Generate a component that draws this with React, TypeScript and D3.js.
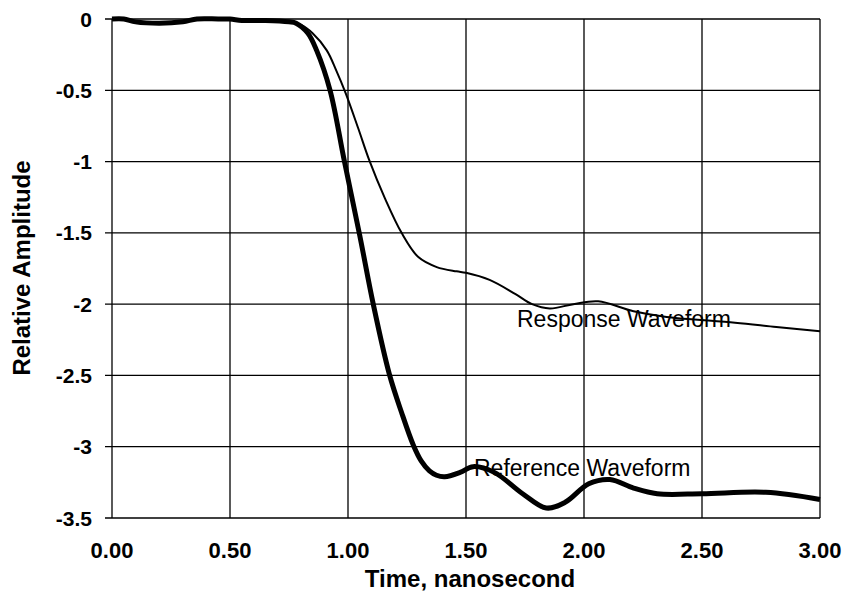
import { useEffect, useRef } from "react"
import * as d3 from "d3"

// Reference waveform (thick trace)
const refTime = [0, 0.05, 0.1, 0.2, 0.3, 0.36, 0.45, 0.5, 0.55, 0.65, 0.75, 0.78, 0.83, 0.867, 0.924, 0.985, 1.05, 1.107, 1.175, 1.227, 1.277, 1.31, 1.345, 1.375, 1.41, 1.475, 1.53, 1.62, 1.74, 1.84, 1.92, 2.02, 2.11, 2.21, 2.31, 2.5, 2.77, 3.0]
const refAmp = [0, 0, -0.02, -0.03, -0.02, 0, 0, 0, -0.01, -0.01, -0.02, -0.03, -0.1, -0.22, -0.5, -1.0, -1.52, -2.0, -2.49, -2.76, -2.99, -3.1, -3.17, -3.2, -3.21, -3.18, -3.14, -3.18, -3.33, -3.43, -3.39, -3.26, -3.23, -3.29, -3.33, -3.33, -3.32, -3.37]

// Response waveform (thin trace)
const respTime = [0, 0.05, 0.1, 0.2, 0.3, 0.36, 0.45, 0.5, 0.55, 0.65, 0.75, 0.8, 0.85, 0.91, 0.95, 0.99, 1.044, 1.09, 1.157, 1.227, 1.298, 1.376, 1.46, 1.5, 1.6, 1.71, 1.78, 1.855, 1.955, 2.06, 2.21, 2.35, 2.64, 2.815, 3.0]
const respAmp = [0, 0, -0.02, -0.03, -0.02, 0, 0, 0, -0.01, -0.01, -0.02, -0.04, -0.1, -0.22, -0.36, -0.52, -0.77, -0.99, -1.26, -1.5, -1.67, -1.74, -1.77, -1.78, -1.83, -1.93, -2.0, -2.03, -2.0, -1.98, -2.05, -2.09, -2.13, -2.16, -2.19]

const xTicks = [0, 0.5, 1, 1.5, 2, 2.5, 3]
const yTicks = [0, -0.5, -1, -1.5, -2, -2.5, -3, -3.5]

const font = "'Liberation Sans', Arial, sans-serif"

function App() {
    const ref = useRef<SVGSVGElement>(null)

    useEffect(() => {
        const svg = d3.select(ref.current)
        svg.selectAll("*").remove()

        const x = d3.scaleLinear().domain([0, 3]).range([112, 820])
        const y = d3.scaleLinear().domain([-3.5, 0]).range([518, 19])

        // Grid
        const grid = svg.append("g")
        grid.selectAll(".vgrid")
            .data(xTicks)
            .enter()
            .append("line")
            .attr("x1", d => x(d))
            .attr("x2", d => x(d))
            .attr("y1", y(0))
            .attr("y2", y(-3.5))
            .attr("stroke", "#000")
            .attr("stroke-width", 1.3)
        grid.selectAll(".hgrid")
            .data(yTicks)
            .enter()
            .append("line")
            .attr("x1", x(0) - 7)
            .attr("x2", x(3))
            .attr("y1", d => y(d))
            .attr("y2", d => y(d))
            .attr("stroke", "#000")
            .attr("stroke-width", 1.3)

        // Y tick labels
        svg.append("g")
            .selectAll("text")
            .data(yTicks)
            .enter()
            .append("text")
            .attr("x", 92)
            .attr("y", d => y(d))
            .attr("dy", "0.36em")
            .attr("text-anchor", "end")
            .attr("font-family", font)
            .attr("font-size", 21)
            .attr("font-weight", "bold")
            .text(d => String(d))

        // X tick labels
        svg.append("g")
            .selectAll("text")
            .data(xTicks)
            .enter()
            .append("text")
            .attr("x", d => x(d))
            .attr("y", 558)
            .attr("text-anchor", "middle")
            .attr("font-family", font)
            .attr("font-size", 22)
            .attr("font-weight", "bold")
            .text(d => d.toFixed(2))

        // Axis titles
        svg.append("text")
            .attr("x", 470)
            .attr("y", 587)
            .attr("text-anchor", "middle")
            .attr("font-family", font)
            .attr("font-size", 24)
            .attr("font-weight", "bold")
            .text("Time, nanosecond")
        svg.append("text")
            .attr("transform", "translate(30, 268) rotate(-90)")
            .attr("text-anchor", "middle")
            .attr("font-family", font)
            .attr("font-size", 24)
            .attr("font-weight", "bold")
            .text("Relative Amplitude")

        // Traces
        const line = d3.line<[number, number]>()
            .x(d => x(d[0]))
            .y(d => y(d[1]))
            .curve(d3.curveCatmullRom.alpha(0.5))

        const resp = respTime.map((t, i) => [t, respAmp[i]] as [number, number])
        const refw = refTime.map((t, i) => [t, refAmp[i]] as [number, number])

        svg.append("path")
            .attr("d", line(resp))
            .attr("fill", "none")
            .attr("stroke", "#000")
            .attr("stroke-width", 2)
        svg.append("path")
            .attr("d", line(refw))
            .attr("fill", "none")
            .attr("stroke", "#000")
            .attr("stroke-width", 5)
            .attr("stroke-linejoin", "round")

        // Labels inside plot
        svg.append("text")
            .attr("x", 517)
            .attr("y", 327)
            .attr("font-family", font)
            .attr("font-size", 23)
            .text("Response Waveform")
        svg.append("text")
            .attr("x", 474)
            .attr("y", 476)
            .attr("font-family", font)
            .attr("font-size", 23)
            .text("Reference Waveform")
    }, [])

    return (
        <svg ref={ref} width="846" height="594" style={{ position: "absolute", left: 0, top: 0, background: "#fff" }}></svg>
    )
}

export default App
